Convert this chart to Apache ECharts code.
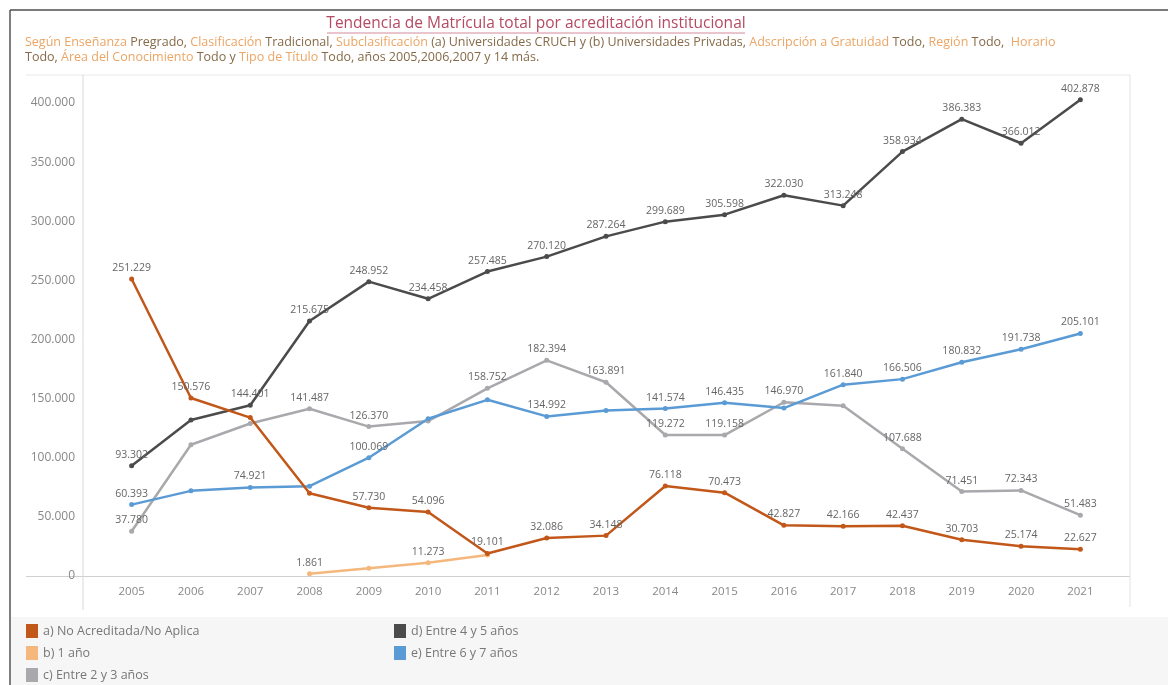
<!DOCTYPE html>
<html>
<head>
<meta charset="utf-8">
<script src="https://cdn.jsdelivr.net/npm/echarts@6/dist/echarts.min.js"></script>
<style>
html,body{margin:0;padding:0;background:#fff;}
#chart{width:1168px;height:685px;}
</style>
</head>
<body>
<div id="chart"></div>
<script>
const years = ['2005','2006','2007','2008','2009','2010','2011','2012','2013','2014','2015','2016','2017','2018','2019','2020','2021'];
const noAcreditada = [251229,150576,134000,70000,57730,54096,19101,32086,34148,76118,70473,42827,42166,42437,30703,25174,22627];
const unAnio = [null,null,null,1861,6500,11273,17800,null,null,null,null,null,null,null,null,null,null];
const entre2y3 = [37780,111000,129000,141487,126370,131000,158752,182394,163891,119272,119158,146970,144000,107688,71451,72343,51483];
const entre4y5 = [93302,132000,144401,215675,248952,234458,257485,270120,287264,299689,305598,322030,313248,358934,386383,366012,402878];
const entre6y7 = [60393,72000,74921,76000,100069,133000,149000,134992,140000,141574,146435,142000,161840,166506,180832,191738,205101];
const yTicks = [0,50000,100000,150000,200000,250000,300000,350000,400000];

const seriesNames = ['a) No Acreditada/No Aplica','b) 1 año','c) Entre 2 y 3 años','d) Entre 4 y 5 años','e) Entre 6 y 7 años'];
const seriesColors = ['#c2571a','#f4b77c','#a9a9ad','#4b4b4b','#5b9bd5'];
const hiddenLabels = [[2,3],[4,6],[1,2,5,12],[1],[1,3,5,6,8,11]];
const seriesValues = [noAcreditada, unAnio, entre2y3, entre4y5, entre6y7];

function fmt(v){ return String(Math.round(v)).replace(/\B(?=(\d{3})+(?!\d))/g,'.'); }

const FONT = '"Open Sans", "Noto Sans", sans-serif';
const chart = echarts.init(document.getElementById('chart'));

const drawOrder = [2,4,3,1,0];
const series = drawOrder.map(function(si){
  return {
    name: seriesNames[si],
    type: 'line',
    data: seriesValues[si].map(function(v,i){
      return {value: v, label: {show: v !== null && hiddenLabels[si].indexOf(i) < 0}};
    }),
    symbol: 'circle',
    symbolSize: 5,
    lineStyle: {width: 2.5, color: seriesColors[si]},
    itemStyle: {color: seriesColors[si]},
    label: {position: 'top', distance: 3, fontSize: 10.5, color: '#666', fontFamily: FONT,
            formatter: function(p){ return fmt(p.value); }},
    emphasis: {disabled: true},
    animation: false,
    connectNulls: false
  };
});

const line1 = '{o|Según Enseñanza }{d|Pregrado, }{o|Clasificación }{d|Tradicional, }{o|Subclasificación }{d|(a) Universidades CRUCH y (b) Universidades Privadas, }{o|Adscripción a Gratuidad }{d|Todo, }{o|Región }{d|Todo,  }{o|Horario}';
const line2 = '{d|Todo, }{o|Área del Conocimiento }{d|Todo y }{o|Tipo de Título }{d|Todo, años 2005,2006,2007 y 14 más.}';
const richSub = {
  o: {fill: '#eba565', fontSize: 12.5, fontFamily: FONT},
  d: {fill: '#866a48', fontSize: 12.5, fontFamily: FONT}
};

const option = {
  backgroundColor: '#fff',
  animation: false,
  grid: {left: 102, right: 58, top: 75, bottom: 109, containLabel: false},
  xAxis: {
    type: 'category',
    data: years,
    boundaryGap: true,
    axisLine: {show: false},
    axisTick: {show: false},
    axisLabel: {color: '#888', fontSize: 11.5, fontFamily: FONT, margin: 10}
  },
  yAxis: {
    type: 'value',
    min: 0,
    max: 423729,
    interval: 50000,
    axisLine: {show: false},
    axisTick: {show: false},
    splitLine: {show: false},
    axisLabel: {color: '#888', fontSize: 12, fontFamily: FONT, margin: 27, showMaxLabel: false,
      formatter: function(v){ return yTicks.indexOf(v) >= 0 ? fmt(v) : ''; }}
  },
  legend: [
    {data: seriesNames.slice(0,3), orient: 'vertical', left: 26, top: 624, itemGap: 8, padding: 0, height: 61,
     icon: 'rect', itemWidth: 12, itemHeight: 14, textStyle: {color: '#777', fontSize: 12.5, fontFamily: FONT},
     selectedMode: false},
    {data: seriesNames.slice(3), orient: 'vertical', left: 394, top: 624, itemGap: 8, padding: 0, height: 61,
     icon: 'rect', itemWidth: 12, itemHeight: 14, textStyle: {color: '#777', fontSize: 12.5, fontFamily: FONT},
     selectedMode: false}
  ],
  graphic: [
    {type: 'rect', z: -1, shape: {x: 11, y: 617, width: 1157, height: 68}, style: {fill: '#f6f6f6'}},
    {type: 'line', shape: {x1: 10, y1: 10, x2: 1168, y2: 10}, style: {stroke: '#7a7a7a', lineWidth: 2}},
    {type: 'line', shape: {x1: 10, y1: 10, x2: 10, y2: 685}, style: {stroke: '#555', lineWidth: 1.5}},
    {type: 'line', shape: {x1: 26, y1: 75, x2: 1130, y2: 75}, style: {stroke: '#e8e8e8', lineWidth: 1}},
    {type: 'line', shape: {x1: 26, y1: 576.5, x2: 1130, y2: 576.5}, style: {stroke: '#d0d0d0', lineWidth: 1}},
    {type: 'line', shape: {x1: 83, y1: 75, x2: 83, y2: 610}, style: {stroke: '#d8d8d8', lineWidth: 1}},
    {type: 'line', shape: {x1: 1130, y1: 75, x2: 1130, y2: 607}, style: {stroke: '#e2e2e2', lineWidth: 1}},
    {type: 'text', x: 536, y: 24, style: {text: 'Tendencia de Matrícula total por acreditación institucional',
      fill: '#b54a63', fontSize: 15.5, fontFamily: FONT, textAlign: 'center', textVerticalAlign: 'middle'}},
    {type: 'line', shape: {x1: 327, y1: 33, x2: 745, y2: 33}, style: {stroke: '#d48a9a', lineWidth: 1}},
    {type: 'text', x: 25, y: 42, style: {text: line1, rich: richSub, textVerticalAlign: 'middle'}},
    {type: 'text', x: 25, y: 57, style: {text: line2, rich: richSub, textVerticalAlign: 'middle'}}
  ],
  series: series
};
chart.setOption(option);
</script>
</body>
</html>
